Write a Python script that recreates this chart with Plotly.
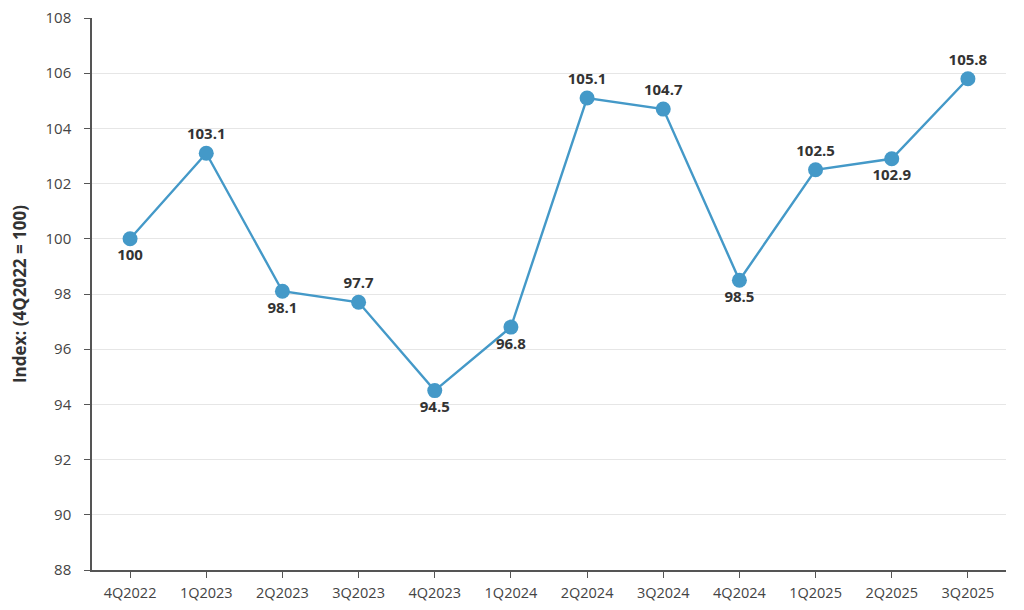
import plotly.graph_objects as go

# --- Data ---
quarters = ["4Q2022", "1Q2023", "2Q2023", "3Q2023", "4Q2023", "1Q2024",
            "2Q2024", "3Q2024", "4Q2024", "1Q2025", "2Q2025", "3Q2025"]
index_values = [100, 103.1, 98.1, 97.7, 94.5, 96.8,
                105.1, 104.7, 98.5, 102.5, 102.9, 105.8]
label_pos = ["bottom center", "top center", "bottom center", "top center",
             "bottom center", "bottom center", "top center", "top center",
             "bottom center", "top center", "bottom center", "top center"]
y_ticks = [88, 90, 92, 94, 96, 98, 100, 102, 104, 106, 108]

line_color = "#4499c8"

fig = go.Figure()

fig.add_trace(go.Scatter(
    x=quarters, y=index_values,
    mode="lines+markers+text",
    line=dict(color=line_color, width=2.4),
    marker=dict(color=line_color, size=15),
    text=[f"{v:g}" for v in index_values],
    textposition=label_pos,
    textfont=dict(family="Open Sans", size=15, color="#333333", weight="bold"),
    showlegend=False,
    hoverinfo="x+y",
    cliponaxis=False,
))

# page body has an 8px margin, so the figure is sized to fit inside it
fig.update_layout(
    width=1008, height=594,
    margin=dict(l=84, r=10, t=10, b=32),
    paper_bgcolor="white",
    plot_bgcolor="white",
    font=dict(family="Open Sans", size=15, color="#444444"),
)

fig.update_xaxes(
    type="category",
    range=[-0.5, 11.5],
    automargin=False,
    showline=True, linecolor="#555555", linewidth=1.5,
    ticks="outside", ticklen=6, tickcolor="#555555",
    ticklabelstandoff=3,
    showgrid=False,
    tickfont=dict(size=14.5, color="#444444"),
)

fig.update_yaxes(
    range=[88, 108],
    tickvals=y_ticks,
    automargin=False,
    ticklabeloverflow="allow",
    showline=True, linecolor="#555555", linewidth=1.5,
    ticks="outside", ticklen=6, tickcolor="#555555",
    ticklabelstandoff=10,
    showgrid=True, gridcolor="#e6e6e6", gridwidth=1,
    zeroline=False,
    tickfont=dict(size=15, color="#444444"),
    title=dict(text="<b>Index: (4Q2022 = 100)</b>",
               font=dict(size=17, color="#333333"), standoff=17),
)

fig.write_html("out.html")
